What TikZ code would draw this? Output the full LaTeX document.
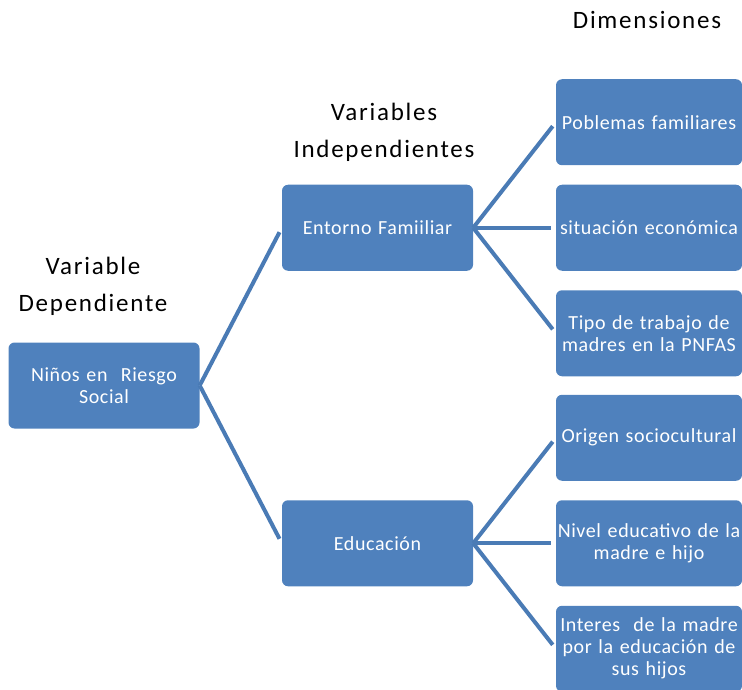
\documentclass[tikz,border=0pt]{standalone}
\usepackage{fontspec}
\setmainfont{Carlito}
\newfontfamily\boxfont{Carlito}[LetterSpace=3]
\newfontfamily\titlefont{Carlito}[LetterSpace=7]
\usetikzlibrary{trees}

\definecolor{boxblue}{HTML}{4F81BD}
\definecolor{linkblue}{HTML}{4A7BB5}

\tikzset{
  box/.style={draw=none,fill=boxblue,rounded corners=6pt,text=white,
    minimum width=191pt,minimum height=86pt,text width=185pt,align=center,
    inner sep=2pt,font=\boxfont\fontsize{20}{22}\selectfont},
  dimbox/.style={box,minimum width=186pt,text width=184pt,inner sep=1pt},
  heading/.style={align=center,text=black,font=\titlefont\fontsize{25}{37}\selectfont}
}

\begin{document}
\begin{tikzpicture}[x=1pt,y=-1pt]
  \useasboundingbox (0,0) rectangle (742,690);
  \path[grow'=right,
    edge from parent/.style={draw=linkblue,line width=4pt,shorten >=5pt},
    edge from parent path={(\tikzparentnode.east) -- (\tikzchildnode.west)},
    level 1/.style={level distance=273.5pt,sibling distance=315.5pt},
    level 2/.style={level distance=271.5pt,sibling distance=105.5pt,
      every node/.append style={dimbox}}]
    node[box] (ninos) at (104,385.5) {Niños en\ \ Riesgo\\Social}
    child { node[box] (entorno) {Entorno Famiiliar}
      child { node (problemas) {Poblemas familiares} }
      child { node (situacion) {situación económica} }
      child { node (trabajo) {Tipo de trabajo de\\madres en la PNFAS} }
    }
    child { node[box] (educacion) {Educación}
      child { node (origen) {Origen sociocultural} }
      child { node (nivel) {Nivel educativo de la\\madre e hijo} }
      child { node (interes) {Interes\ \ de la madre\\por la educación de\\sus hijos} }
    };

  % titulos de columna
  \node[heading] (tdep) at (93,286) {Variable\\Dependiente};
  \node[heading] (tindep) at (384,132) {Variables\\Independientes};
  \node[heading] (tdim) at (647,20) {Dimensiones};
\end{tikzpicture}
\end{document}
